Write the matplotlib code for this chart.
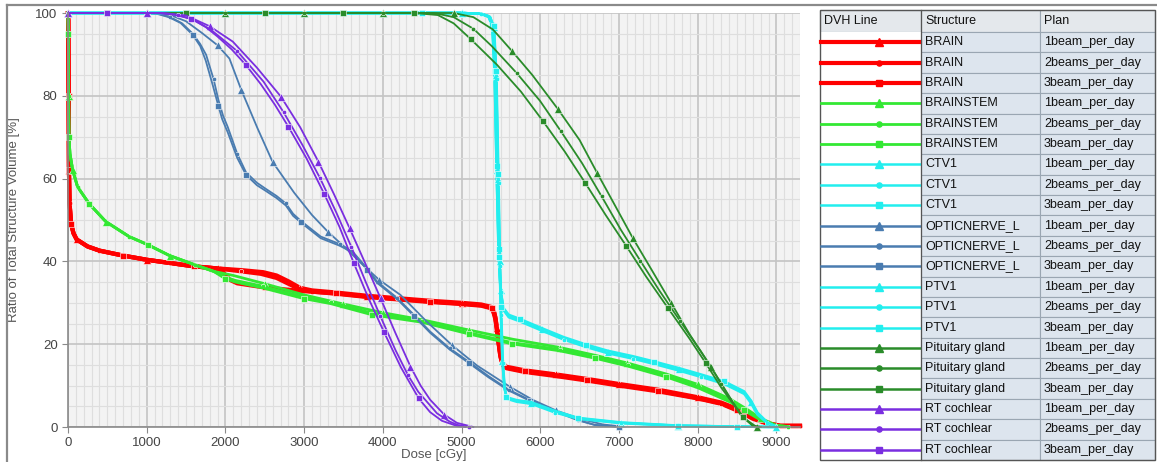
import matplotlib
matplotlib.use("Agg")
import matplotlib.pyplot as plt
from matplotlib.patches import Rectangle
from matplotlib.ticker import MultipleLocator

plt.rcParams['font.family'] = ['Liberation Sans', 'DejaVu Sans']

# ---- data: (dose [cGy], ratio of volume [%]) ----
brain_start = [(0, 100), (4, 99), (8, 80), (12, 62), (20, 54), (40, 49), (70, 46.8),
               (110, 45.3), (250, 43.6), (400, 42.6), (700, 41.4), (1000, 40.4),
               (1300, 39.6), (1600, 38.8), (1900, 38.3)]
brain_1beam = brain_start + [
    (2200, 37.9), (2480, 37.4), (2650, 36.6), (2800, 35.2), (2950, 33.6), (3100, 33.0),
    (3400, 32.5), (3800, 31.7), (4200, 31.1), (4600, 30.5), (5000, 30.0), (5250, 29.6),
    (5380, 29.0), (5420, 27.5), (5450, 24), (5480, 19), (5510, 16), (5560, 14.6),
    (5800, 13.7), (6200, 12.7), (6600, 11.6), (7000, 10.4), (7500, 9.0), (8000, 7.2),
    (8300, 5.9), (8500, 4.4), (8700, 2.4), (8900, 0.9), (9050, 0.3), (9300, 0.3)]
brain_2beams = brain_start + [
    (2200, 37.6), (2450, 37.0), (2650, 36.0), (2800, 34.6), (2950, 33.2), (3100, 32.7),
    (3400, 32.2), (3800, 31.4), (4200, 30.8), (4600, 30.2), (5000, 29.7), (5250, 29.3),
    (5390, 28.6), (5430, 26.5), (5460, 22), (5490, 17.5), (5520, 15.2), (5570, 14.2),
    (5800, 13.3), (6200, 12.3), (6600, 11.2), (7000, 10.0), (7500, 8.6), (8000, 6.9),
    (8300, 5.6), (8500, 4.0), (8700, 2.0), (8900, 0.7), (9050, 0.2), (9300, 0.2)]
brain_3beam = brain_start + [
    (1980, 37.2), (2050, 35.6), (2150, 34.7), (2500, 33.7), (3000, 32.8), (3400, 32.3),
    (3800, 31.5), (4200, 30.9), (4600, 30.3), (5000, 29.8), (5250, 29.4), (5390, 28.8),
    (5430, 26), (5465, 21), (5495, 16.8), (5530, 14.8), (5580, 14.3), (5800, 13.5),
    (6200, 12.5), (6600, 11.4), (7000, 10.2), (7500, 8.8), (8000, 7.0), (8300, 5.7),
    (8500, 4.2), (8700, 2.2), (8900, 0.8), (9050, 0.3), (9300, 0.3)]

stem_start = [(0, 100), (4, 95), (8, 80), (12, 70), (25, 66), (60, 62), (122, 58),
              (270, 53.9), (481, 49.6), (776, 46), (1017, 44), (1291, 41.4),
              (1608, 39.2), (1850, 37.6)]
stem_1beam = stem_start + [
    (2100, 36.6), (2500, 34.6), (3000, 31.9), (3500, 29.7), (4000, 27.6), (4500, 25.9),
    (5100, 23.4), (5400, 22.2), (5650, 21.2), (6250, 19.2), (6700, 17.3), (7100, 15.5),
    (7600, 12.8), (8000, 10.3), (8400, 6.9), (8600, 4.6), (8800, 2.1), (9000, 0.4),
    (9150, 0.1)]
stem_2beams = stem_start + [
    (2000, 36.2), (2127, 35.4), (2473, 34.0), (3000, 31.4), (3338, 30.1), (3865, 27.5),
    (4076, 26.9), (4498, 25.6), (5089, 22.8), (5637, 20.4), (6249, 18.7), (6700, 16.9),
    (7114, 15.0), (7600, 12.4), (8000, 9.8), (8418, 6.2), (8591, 4.2), (8800, 1.8),
    (9000, 0.3), (9150, 0.1)]
stem_3beam = stem_start + [
    (2000, 35.8), (2127, 35.0), (2473, 33.6), (3000, 31.0), (3338, 29.8), (3865, 27.1),
    (4076, 26.5), (4498, 25.3), (5089, 22.5), (5637, 20.1), (6249, 18.4), (6700, 16.6),
    (7114, 14.7), (7600, 12.1), (8000, 9.5), (8418, 6.0), (8591, 4.0), (8800, 1.7),
    (9000, 0.3), (9150, 0.1)]

target_top = [(0, 100), (500, 100), (1000, 100), (1500, 100), (2000, 100), (2500, 100),
              (3000, 100), (3500, 100), (4000, 100), (4500, 100), (5000, 100)]
ctv1_1beam = target_top + [
    (5250, 99.8), (5340, 99.2), (5390, 97), (5420, 85), (5445, 62), (5470, 42), (5495, 33),
    (5530, 28.5), (5600, 26.8), (5742, 25.8), (6016, 23.6), (6300, 21.4), (6586, 19.6),
    (6861, 18.1), (7177, 16.8), (7451, 15.5), (7767, 13.9), (8042, 12.4), (8338, 10.7),
    (8591, 8.3), (8680, 6.0), (8759, 3.3), (8886, 1.0), (9000, 0.1)]
ctv1_2beams = target_top + [
    (5250, 99.8), (5345, 99.1), (5395, 96.5), (5425, 84), (5450, 61), (5475, 41), (5500, 32.5),
    (5535, 28.2), (5600, 26.5), (5742, 25.5), (6016, 23.3), (6300, 21.1), (6586, 19.3),
    (6861, 17.8), (7177, 16.5), (7451, 15.2), (7767, 13.6), (8042, 12.1), (8338, 10.4),
    (8591, 8.0), (8680, 5.7), (8759, 3.0), (8886, 0.9), (9000, 0.1)]
ctv1_3beam = target_top + [
    (5250, 99.8), (5340, 99.3), (5390, 97.2), (5420, 86), (5445, 63), (5470, 43), (5495, 33.4),
    (5530, 28.8), (5600, 27.1), (5742, 26.1), (6016, 23.9), (6300, 21.7), (6586, 19.9),
    (6861, 18.4), (7177, 17.1), (7451, 15.8), (7767, 14.2), (8042, 12.7), (8338, 11.0),
    (8591, 8.6), (8680, 6.3), (8759, 3.5), (8886, 1.1), (9000, 0.1)]
ptv1_1beam = target_top + [
    (5250, 99.8), (5360, 99), (5410, 96.5), (5440, 85), (5465, 60), (5485, 40), (5500, 28),
    (5520, 16), (5545, 9.5), (5573, 7.0), (5700, 6.3), (5886, 5.8), (6186, 3.7),
    (6481, 2.1), (7030, 1.0), (7747, 0.3), (8500, 0.1), (9000, 0.0)]
ptv1_2beams = target_top + [
    (5250, 99.8), (5365, 98.9), (5415, 96), (5445, 84), (5470, 59), (5490, 39), (5505, 27),
    (5525, 15.5), (5550, 9.2), (5578, 6.8), (5700, 6.1), (5886, 5.6), (6186, 3.5),
    (6481, 2.0), (7030, 0.9), (7747, 0.3), (8500, 0.1), (9000, 0.0)]
ptv1_3beam = target_top + [
    (5250, 99.8), (5360, 99.1), (5408, 96.8), (5438, 86), (5462, 61), (5482, 41), (5497, 29),
    (5517, 16.5), (5542, 9.8), (5570, 7.2), (5700, 6.5), (5886, 6.0), (6186, 3.9),
    (6481, 2.2), (7030, 1.1), (7747, 0.35), (8500, 0.1), (9000, 0.0)]

nerve_top = [(0, 100), (500, 100), (1000, 100)]
nerve_1beam = nerve_top + [
    (1100, 100), (1300, 99.5), (1500, 98), (1700, 95.2), (1900, 92.2), (2051, 89),
    (2200, 81.5), (2409, 72.1), (2600, 64), (2873, 56.6), (3100, 51.2), (3300, 47.2),
    (3506, 43.6), (3700, 40), (3950, 35.6), (4224, 31.9), (4550, 25.6), (4877, 19.8),
    (5200, 14.8), (5616, 9.7), (5900, 6.6), (6200, 4.0), (6500, 2.0), (6800, 0.6),
    (7050, 0.1)]
nerve_2beams = nerve_top + [
    (1150, 99.8), (1300, 99), (1450, 97.5), (1586, 95), (1680, 92.5), (1755, 89.9),
    (1850, 84), (1911, 79), (1970, 75.2), (2029, 72.5), (2150, 66), (2262, 61.5),
    (2400, 59), (2515, 57.5), (2650, 55.8), (2768, 54), (2860, 51.5), (2958, 49.8),
    (3211, 46), (3450, 44.2), (3611, 42.5), (3800, 38.3), (3928, 35.1), (4181, 31.2),
    (4400, 27), (4604, 23), (4850, 19), (5089, 15.8), (5342, 12.3), (5600, 9),
    (5869, 6.5), (6143, 4.3), (6481, 1.7), (6692, 0.5), (7000, 0.05)]
nerve_3beam = nerve_top + [
    (1130, 99.8), (1280, 99), (1430, 97.6), (1586, 94.7), (1680, 92), (1750, 88.5),
    (1840, 82.5), (1911, 77.5), (1960, 74.3), (2029, 71.2), (2150, 65), (2262, 60.9),
    (2400, 58.4), (2515, 57), (2650, 55.3), (2768, 53.5), (2860, 51), (2958, 49.4),
    (3211, 45.6), (3450, 43.8), (3611, 42.2), (3800, 38), (3928, 34.8), (4181, 30.9),
    (4400, 26.7), (4604, 22.7), (4850, 18.7), (5089, 15.5), (5342, 12.0), (5600, 8.8),
    (5869, 6.3), (6143, 4.1), (6481, 1.6), (6692, 0.5), (7000, 0.05)]

gland_top = [(0, 100), (500, 100), (1000, 100), (1500, 100), (2000, 100), (2500, 100),
             (3000, 100), (3500, 100), (4000, 100)]
gland_1beam = gland_top + [
    (4500, 100), (4900, 100), (5150, 99), (5400, 96), (5637, 90.9), (5900, 85),
    (6228, 76.7), (6500, 69.3), (6722, 61.4), (6950, 53.5), (7177, 45.6), (7420, 37.8),
    (7662, 30), (7900, 22.3), (8168, 14.6), (8422, 6.5), (8591, 2.1), (8750, 0)]
gland_2beams = gland_top + [
    (4500, 100), (4650, 100), (4900, 99), (5150, 96.2), (5384, 92), (5700, 85.5),
    (5996, 78.8), (6260, 71.5), (6532, 63.7), (6780, 55.7), (7025, 47.6), (7270, 40.2),
    (7515, 32.9), (7780, 25.5), (8042, 18.2), (8300, 10.5), (8548, 2.9), (8700, 0.3),
    (8800, 0)]
gland_3beam = gland_top + [
    (4400, 100), (4700, 99.5), (4900, 97.5), (5122, 93.6), (5450, 87.5), (5755, 81),
    (6030, 74), (6312, 66.5), (6570, 59), (6831, 51.2), (7090, 43.8), (7346, 36.3),
    (7620, 28.8), (7894, 21.4), (8100, 15.5), (8300, 9.5), (8570, 2.5), (8700, 0.3),
    (8800, 0)]

cochlea_top = [(0, 100), (500, 100), (1000, 100)]
cochlea_1beam = cochlea_top + [
    (1200, 100), (1500, 99.4), (1800, 96.8), (2093, 93.1), (2400, 86.8), (2705, 79.8),
    (2950, 72.4), (3181, 64.1), (3380, 56.2), (3578, 48), (3775, 39.6), (3971, 31.1),
    (4160, 22.7), (4351, 14.6), (4480, 10), (4600, 6.6), (4780, 3), (4941, 1), (5150, 0)]
cochlea_2beams = cochlea_top + [
    (1150, 100), (1400, 99.5), (1600, 98.3), (1819, 95.9), (2150, 90.8), (2485, 83.4),
    (2740, 76), (2979, 68.1), (3200, 60.2), (3409, 51.8), (3600, 43.5), (3781, 35.1),
    (3970, 26.7), (4160, 18.6), (4320, 12.5), (4450, 8.5), (4688, 3.3), (4850, 1.3),
    (4950, 0.5), (5100, 0)]
cochlea_3beam = cochlea_top + [
    (1100, 100), (1300, 99.8), (1566, 98.6), (1750, 96.6), (1900, 94.3), (2080, 91.2),
    (2262, 87.4), (2450, 82.8), (2630, 77.8), (2801, 72.5), (3030, 64.9), (3253, 56.4),
    (3450, 48.3), (3633, 39.5), (3820, 31), (4013, 23), (4230, 14.4), (4456, 6.9),
    (4600, 3.6), (4750, 1.5), (4950, 0.2), (5050, 0)]

structures = ["BRAIN", "BRAINSTEM", "CTV1", "OPTICNERVE_L", "PTV1",
              "Pituitary gland", "RT cochlear"]
plans = ["1beam_per_day", "2beams_per_day", "3beam_per_day"]
curves = [
    [brain_1beam, brain_2beams, brain_3beam],
    [stem_1beam, stem_2beams, stem_3beam],
    [ctv1_1beam, ctv1_2beams, ctv1_3beam],
    [nerve_1beam, nerve_2beams, nerve_3beam],
    [ptv1_1beam, ptv1_2beams, ptv1_3beam],
    [gland_1beam, gland_2beams, gland_3beam],
    [cochlea_1beam, cochlea_2beams, cochlea_3beam],
]

# ---- styles ----
colors = {"BRAIN": "#ff0000", "BRAINSTEM": "#33e833", "CTV1": "#22eeee",
          "OPTICNERVE_L": "#4a7cb0", "PTV1": "#22eeee",
          "Pituitary gland": "#2a8c2a", "RT cochlear": "#7a2ee0"}
widths = {"BRAIN": 3.0, "BRAINSTEM": 2.0, "CTV1": 1.8, "OPTICNERVE_L": 1.3,
          "PTV1": 1.8, "Pituitary gland": 1.3, "RT cochlear": 1.3}
markers = ["^", "o", "s"]
msizes = [5.5, 3.2, 4.0]
offsets = [0.0, 0.03, 0.06]

W, H = 1157, 462
fig = plt.figure(figsize=(W / 100, H / 100), dpi=100)
ax = fig.add_axes([68 / W, 35 / H, 732 / W, 414 / H])
ax.set_facecolor("#f3f3f3")

for name, group in zip(structures, curves):
    for k, pts in enumerate(group):
        xs = [p[0] for p in pts]
        ys = [p[1] for p in pts]
        ax.plot(xs, ys, color=colors[name], lw=widths[name], marker=markers[k],
                ms=msizes[k], mec="white", mew=0.4, markevery=(offsets[k], 0.09),
                clip_on=False, solid_joinstyle="round")

ax.set_xlim(0, 9300)
ax.set_ylim(0, 100)
ax.xaxis.set_major_locator(MultipleLocator(1000))
ax.xaxis.set_minor_locator(MultipleLocator(100))
ax.yaxis.set_major_locator(MultipleLocator(20))
ax.yaxis.set_minor_locator(MultipleLocator(5))
ax.grid(which="major", color="#c4c4c4", lw=1.2)
ax.grid(which="minor", color="#dedede", lw=0.8)
ax.set_axisbelow(True)
for s in ("top", "right"):
    ax.spines[s].set_visible(False)
for s in ("left", "bottom"):
    ax.spines[s].set_color("#8a8a8a")
    ax.spines[s].set_linewidth(1.2)
ax.tick_params(which="major", length=4, color="#8a8a8a", labelsize=9.5,
               labelcolor="#444444")
ax.tick_params(which="minor", length=0)
ax.set_xlabel("Dose [cGy]", fontsize=9.5, color="#555555", labelpad=0)
ax.set_ylabel("Ratio of Total Structure Volume [%]", fontsize=9.5, color="#555555",
              labelpad=11)

# ---- table on the right, drawn in pixel coordinates ----
tab = fig.add_axes([0, 0, 1, 1])
tab.set_xlim(0, W)
tab.set_ylim(H, 0)
tab.axis("off")
tab.patch.set_alpha(0)

# panel frame
tab.plot([7, 7], [5, H], color="#8a8a8a", lw=1.6)
tab.plot([7, W], [5, 5], color="#8a8a8a", lw=1.6)

col_x = [820, 921, 1040, 1155]
head_top, head_bot = 10, 32
row_h = (460 - head_bot) / 21
edge = "#9aa6b2"

for c in range(3):
    tab.add_patch(Rectangle((col_x[c], head_top), col_x[c + 1] - col_x[c],
                            head_bot - head_top, fc="#e4e8ec", ec=edge, lw=0.8))
for c, label in enumerate(["DVH Line", "Structure", "Plan"]):
    tab.text(col_x[c] + 4, (head_top + head_bot) / 2, label, fontsize=9,
             va="center", ha="left", color="#111111")

r = 0
for name in structures:
    for k, plan in enumerate(plans):
        y0 = head_bot + r * row_h
        yc = y0 + row_h / 2
        tab.add_patch(Rectangle((col_x[0], y0), col_x[1] - col_x[0], row_h,
                                fc="white", ec="none"))
        for c in (1, 2):
            tab.add_patch(Rectangle((col_x[c], y0), col_x[c + 1] - col_x[c], row_h,
                                    fc="#dde5ee", ec=edge, lw=0.8))
        tab.plot([col_x[0] + 1, col_x[1] - 1], [yc, yc], color=colors[name],
                 lw=max(widths[name], 1.8))
        tab.plot([879], [yc], color=colors[name], marker=markers[k],
                 ms=msizes[k] + 0.5, mec=colors[name])
        tab.text(col_x[1] + 4, yc, name, fontsize=9, va="center", color="#111111")
        tab.text(col_x[2] + 4, yc, plan, fontsize=9, va="center", color="#111111")
        r += 1

tab.add_patch(Rectangle((col_x[0], head_top), col_x[3] - col_x[0], 460 - head_top,
                        fc="none", ec="#555555", lw=1.0))
tab.plot([col_x[1], col_x[1]], [head_top, 460], color="#555555", lw=0.9)

fig.savefig("out.png", dpi=100)
